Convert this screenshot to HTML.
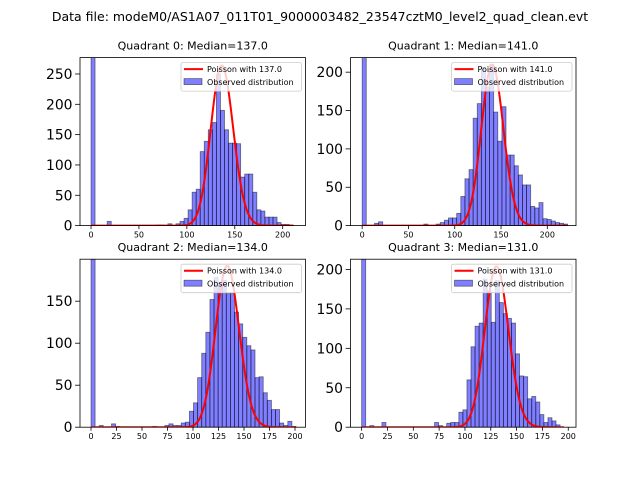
<!DOCTYPE html>
<html><head><meta charset="utf-8"><style>
body{margin:0;background:#fff}
svg{display:block;font-family:"DejaVu Sans","Liberation Sans",sans-serif}
</style></head><body>
<svg id="chart" width="640" height="480" viewBox="0 0 640 480">
<text x="320" y="21" text-anchor="middle" font-size="12.5">Data file: modeM0/AS1A07_011T01_9000003482_23547cztM0_level2_quad_clean.evt</text>
</svg>
<script>
const panelTitles = ["Quadrant 0: Median=137.0","Quadrant 1: Median=141.0","Quadrant 2: Median=134.0","Quadrant 3: Median=131.0"];
const lambdas = [137, 141, 134, 131];
const poissonPeaks = [264, 210, 192, 204];
const histMax = [211, 222, 201, 196];
const counts0 = [400,0,0,0,7,0,0,0,0,0,0,0,0,0,0,0,1,1,0,3,0,3,7,12,26,55,60,122,139,158,170,250,190,158,136,136,135,80,85,85,55,26,24,14,14,14,5,2,2,1];
const counts1 = [400,0,0,3,5,0,0,0,0,0,0,0,0,0,0,2,0,0,2,4,7,10,10,16,38,61,73,140,159,206,180,210,148,110,155,92,92,78,66,53,53,25,23,30,9,8,6,4,3,2];
const counts2 = [400,0,2,0,0,4,1,0,0,0,0,0,0,0,0,1,0,0,2,4,2,2,5,6,19,29,59,88,113,152,178,171,175,159,159,137,123,107,97,92,59,60,41,32,21,21,5,2,7,1];
const counts3 = [400,0,2,0,0,6,0,0,0,0,0,0,0,0,0,0,0,0,6,2,0,5,6,6,19,22,60,102,128,132,188,173,133,186,158,144,138,132,93,65,64,36,39,32,16,6,12,8,3,0];
const allCounts = [counts0, counts1, counts2, counts3];
const xLims = [[-11.5,223.8],[-12.6,231],[-10.8,210.3],[-10.8,207.5]];
const yLims = [277, 219, 200, 213];
const xTicks0 = [0,50,100,150,200];
const xTicks2 = [0,25,50,75,100,125,150,175,200];
const allXTicks = [xTicks0, xTicks0, xTicks2, xTicks2];
const yTicks0 = [0,50,100,150,200,250];
const yTicks1 = [0,50,100,150,200];
const yTicks2 = [0,50,100,150];
const allYTicks = [yTicks0, yTicks1, yTicks2, yTicks1];

const NS = "http://www.w3.org/2000/svg";
const svg = document.getElementById('chart');
function mk(tag, attrs, parent){const e=document.createElementNS(NS,tag);for(const k in attrs)e.setAttribute(k,attrs[k]);(parent||svg).appendChild(e);return e;}
function lgamma(n){let s=0;for(let i=2;i<=n;i++)s+=Math.log(i);return s;}
const W=225.5, H=168;
const lefts=[80,350.5,80,350.5], tops=[57.6,57.6,259.2,259.2];

for(let p=0;p<4;p++){
  const L=lefts[p], T=tops[p];
  const g = mk('g',{});
  
  
  const [x0,x1]=xLims[p];
  const sx=v=>L+(v-x0)/(x1-x0)*W;
  const sy=v=>T+H-v/yLims[p]*H;
  const clipId='clip'+p;
  const cp=mk('clipPath',{id:clipId},g); mk('rect',{x:L,y:T,width:W,height:H},cp);
  const plot=mk('g',{'clip-path':'url(#'+clipId+')'},g);
  const counts=allCounts[p], bw=histMax[p]/counts.length;
  counts.forEach((c,i)=>{
    const r=mk('rect',{x:sx(i*bw),y:sy(c),width:sx((i+1)*bw)-sx(i*bw),height:sy(0)-sy(c),fill:'rgba(0,0,255,0.5)',stroke:'rgba(0,0,0,0.5)','stroke-width':0.8},plot);
    
    
  });
  const lam=lambdas[p], scale=poissonPeaks[p]*Math.sqrt(2*Math.PI*lam);
  let d='';
  for(let k=0;k<=Math.round(histMax[p]);k++){
    const v=scale*Math.exp(k*Math.log(lam)-lam-lgamma(k));
    d+=(k?'L':'M')+sx(k).toFixed(2)+','+sy(v).toFixed(2);
  }
  const line=mk('path',{d:d,fill:'none',stroke:'#f00','stroke-width':2},plot);
  
  
  const frame=mk('rect',{x:L,y:T,width:W,height:H,fill:'none',stroke:'#000','stroke-width':0.8},g);
  
  
  allXTicks[p].forEach(t=>{
    const x=sx(t);
    mk('line',{x1:x,x2:x,y1:T+H,y2:T+H+3.5,stroke:'#000','stroke-width':0.8},g);
    const tx=mk('text',{x:x,y:T+H+12,'text-anchor':'middle','font-size':8},g);
    tx.textContent=t;
    
    
  });
  allYTicks[p].forEach(t=>{
    const y=sy(t);
    mk('line',{x1:L,x2:L-4.9,y1:y,y2:y,stroke:'#000','stroke-width':0.8},g);
    const tx=mk('text',{x:L-7.5,y:y+5,'text-anchor':'end','font-size':13.9},g);
    tx.textContent=t;
    
    
  });
  const title=mk('text',{x:L+W/2,y:T-8,'text-anchor':'middle','font-size':11},g);
  title.textContent=panelTitles[p];
  
  
  const lg=mk('g',{},g);
  
  
  const lx=L+W-124.5, ly=T+5;
  mk('rect',{x:lx,y:ly,width:120.5,height:28.5,rx:2,fill:'rgba(255,255,255,0.8)',stroke:'#ccc','stroke-width':0.8},lg);
  mk('line',{x1:lx+3,x2:lx+22,y1:ly+6.5,y2:ly+6.5,stroke:'#f00','stroke-width':2},lg);
  const t1=mk('text',{x:lx+26,y:ly+9.5,'font-size':8},lg); t1.textContent='Poisson with '+lam.toFixed(1);
  
  
  mk('rect',{x:lx+3,y:ly+16,width:18,height:6,fill:'rgba(0,0,255,0.5)',stroke:'rgba(0,0,0,0.5)','stroke-width':0.8},lg);
  const t2=mk('text',{x:lx+26,y:ly+22.5,'font-size':8},lg); t2.textContent='Observed distribution';
  
  
}
</script>
</body></html>
